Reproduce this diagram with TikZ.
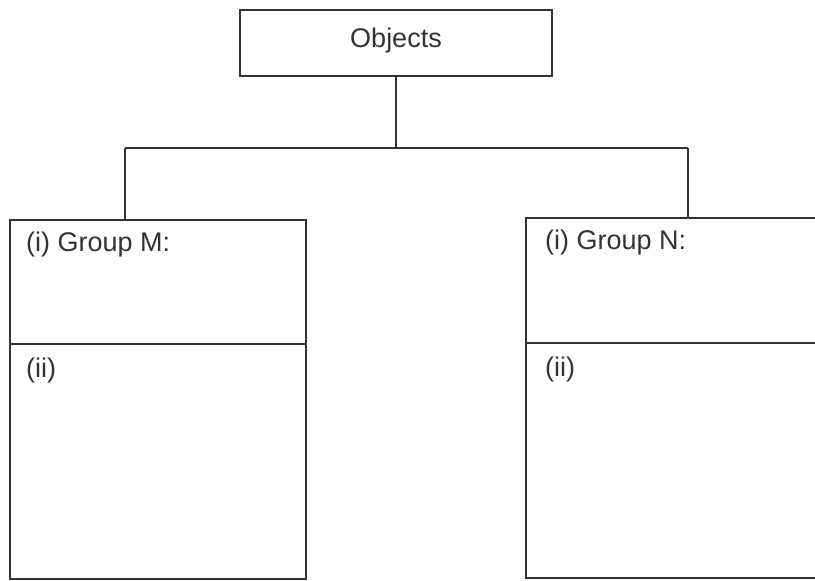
\documentclass[tikz,border=0pt]{standalone}
\usepackage{fontspec}
\setmainfont{Liberation Sans}
\begin{document}
\begin{tikzpicture}[x=1pt,y=-1pt,
  box/.style={draw=black!80, line width=1.4pt, rectangle, inner sep=0pt},
  conn/.style={draw=black!80, line width=1.4pt},
  lbl/.style={text=black!80, font=\fontsize{27}{30}\selectfont, inner sep=0pt, anchor=west}]
\clip (0,0) rectangle (815,581);
\fill[white] (0,0) rectangle (815,581);
% top box
\node[box, minimum width=312pt, minimum height=66pt] (obj) at (396,43) {};
\node[lbl, anchor=center] (objt) at (396,41) {Objects};
% left boxes
\node[box, minimum width=296pt, minimum height=124pt] (mtop) at (158,282) {};
\node[box, minimum width=296pt, minimum height=235pt] (mbot) at (158,461.5) {};
% right boxes
\node[box, minimum width=310pt, minimum height=125pt] (ntop) at (681,280.5) {};
\node[box, minimum width=310pt, minimum height=235pt] (nbot) at (681,460.5) {};
% labels
\node[lbl] (mi) at (26,245) {(i) Group M:};
\node[lbl] (mii) at (26,371) {(ii)};
\node[lbl] (ni) at (545,243) {(i) Group N:};
\node[lbl] (nii) at (545,370) {(ii)};
% connectors
\coordinate (j) at (396,148);
\coordinate (lt) at (125,148);
\coordinate (rt) at (688,148);
\draw[conn] (obj.south) -- (j);
\draw[conn] (lt) -- (rt);
\draw[conn] (lt) -- (lt |- mtop.north);
\draw[conn] (rt) -- (rt |- ntop.north);
\end{tikzpicture}
\end{document}
